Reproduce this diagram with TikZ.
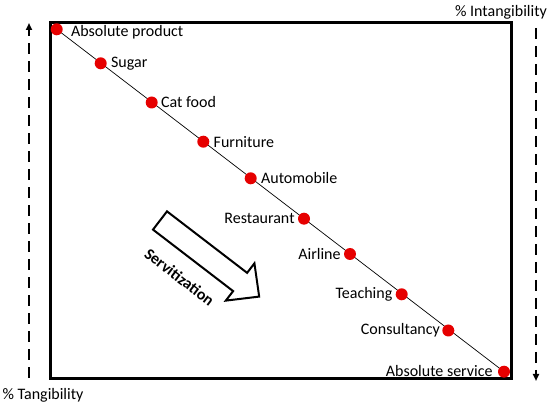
\documentclass[tikz,border=0pt]{standalone}
\usepackage{fontspec}
\setmainfont{Carlito}
\usetikzlibrary{arrows.meta,backgrounds}
\definecolor{dotred}{RGB}{230,0,0}
\tikzset{
  dotnode/.style={circle,fill=dotred,draw=none,minimum size=12pt,inner sep=0pt},
  lab/.style={inner sep=0pt,font=\fontsize{16}{19}\selectfont},
  dasharrow/.style={line width=2.2pt,dash pattern=on 11pt off 7pt,-{Triangle[length=7pt,width=6pt]}},
  frame/.style={line width=3pt},
  blockarrow/.style={line width=2pt,line join=miter,fill=white},
}
\begin{document}
\begin{tikzpicture}[x=1pt,y=-1pt]
\useasboundingbox (0,0) rectangle (550,409);
% frame
\draw[frame] (50,23) rectangle (511,379);
% dots
\node[dotnode] (d1) at (56.7,29.3) {};
\node[dotnode] (d2) at (100.7,63.3) {};
\node[dotnode] (d3) at (151.7,102.5) {};
\node[dotnode] (d4) at (203.3,141.7) {};
\node[dotnode] (d5) at (250.7,178.3) {};
\node[dotnode] (d6) at (304,218.7) {};
\node[dotnode] (d7) at (350,254) {};
\node[dotnode] (d8) at (401.7,294.3) {};
\node[dotnode] (d9) at (448.3,330.5) {};
\node[dotnode] (d10) at (504,371.7) {};
\begin{pgfonlayer}{background}
\draw[line width=0.7pt] (d1.center) -- (d10.center);
\end{pgfonlayer}
% labels
\node[lab,anchor=west] (l1) at ([xshift=8pt,yshift=-3pt]d1.east) {Absolute product};
\node[lab,anchor=west] (l2) at ([xshift=4pt]d2.east) {Sugar};
\node[lab,anchor=west] (l3) at ([xshift=3pt]d3.east) {Cat food};
\node[lab,anchor=west] (l4) at ([xshift=4pt]d4.east) {Furniture};
\node[lab,anchor=west] (l5) at ([xshift=4pt]d5.east) {Automobile};
\node[lab,anchor=east] (l6) at ([xshift=-3pt]d6.west) {Restaurant};
\node[lab,anchor=east] (l7) at ([xshift=-3pt]d7.west) {Airline};
\node[lab,anchor=east] (l8) at ([xshift=-3pt]d8.west) {Teaching};
\node[lab,anchor=east] (l9) at ([xshift=-2pt]d9.west) {Consultancy};
\node[lab,anchor=east] (l10) at ([xshift=-5pt,yshift=1pt]d10.west) {Absolute service};
% axis arrows
\coordinate (la0) at (29,378);
\coordinate (la1) at (29,23);
\coordinate (ra0) at (536,28);
\coordinate (ra1) at (536,381);
\draw[dasharrow] (la0) -- (la1);
\draw[dasharrow] (ra0) -- (ra1);
\node[lab] (tint) at (501,12) {\% Intangibility};
\node[lab] (ttan) at (43,395) {\% Tangibility};
% servitization block arrow
\begin{scope}[shift={(160,220.5)},rotate=-37.5]
\draw[blockarrow] (0,-11.5) -- (101,-11.5) -- (101,-23.5) -- (125,0) -- (101,23.5) -- (101,11.5) -- (0,11.5) -- cycle;
\node[lab,font=\fontsize{16}{19}\selectfont\bfseries,rotate=-37.5] (serv) at (50,33) {Servitization};
\end{scope}
\end{tikzpicture}
\end{document}
